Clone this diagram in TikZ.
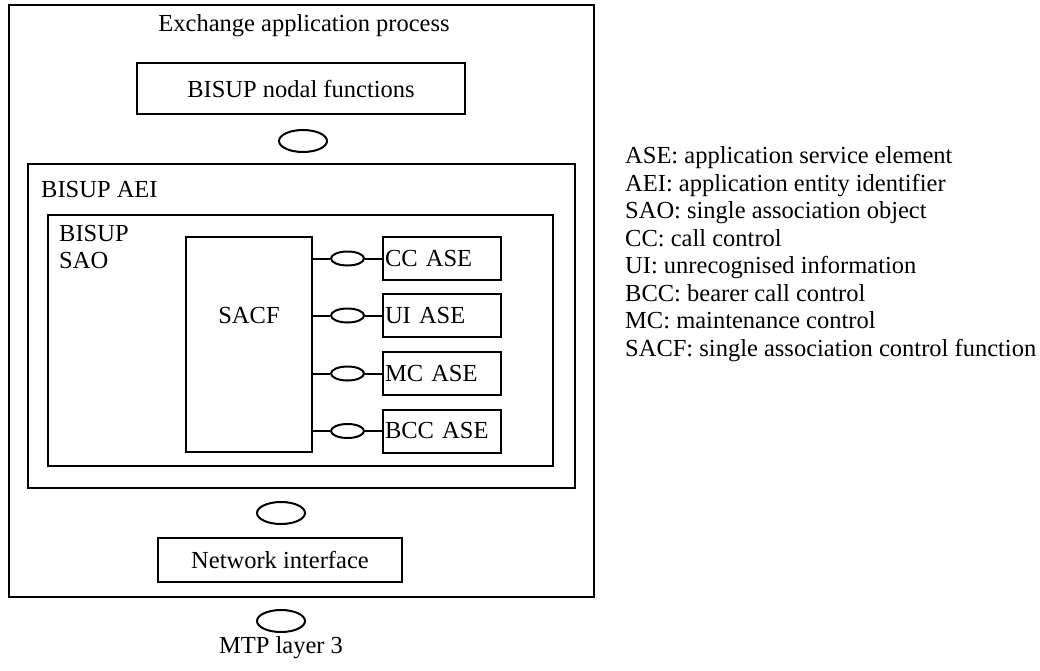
\documentclass[tikz,border=0pt]{standalone}
\usepackage{fontspec}
\setmainfont{Liberation Serif}
\usetikzlibrary{shapes.geometric}
\tikzset{
  box/.style={draw, line width=2pt, inner sep=0pt},
  asebox/.style={box, minimum height=43pt, text width=114pt, inner xsep=2pt, align=left},
  link/.style={draw, ellipse, line width=2pt, inner sep=0pt, minimum width=48pt, minimum height=22pt},
  smalllink/.style={link, minimum width=33pt, minimum height=14pt},
  wire/.style={line width=2pt}
}
\begin{document}
\begin{tikzpicture}[x=1pt, y=-1pt, font=\fontsize{24.5}{27.5}\selectfont]
        \useasboundingbox (0,0) rectangle (1040,671);
        % frames
        \node[box, minimum width=585pt, minimum height=592pt] (outer) at (301.5,301) {};
        \node[box, minimum width=547pt, minimum height=324pt] (aei) at (301.5,326) {};
        \node[box, minimum width=505pt, minimum height=251pt] (sao) at (300.5,340.5) {};
        \node (title) at (304,26) {Exchange application process};
        \node[anchor=west, inner sep=0pt] (aeilbl) at (41,190) {BISUP AEI};
        \node[anchor=west, inner sep=0pt, align=left] (saolbl) at (59,247) {BISUP\\SAO};

        % functions
        \node[box, minimum width=328pt, minimum height=51pt] (nodal) at (301,88.5) {BISUP nodal functions};
        \node[link] (o1) at (303,141) {};
        \node[box, minimum width=126pt, minimum height=215pt] (sacf) at (249,344.5) {};
        \node (sacflbl) at (249,316) {SACF};
        \node[box, minimum width=244pt, minimum height=44pt] (net) at (280,560) {Network interface};
        \node[link] (o2) at (281,513) {};
        \node[link] (o3) at (281,621) {};
        \node (mtp) at (281,648) {MTP layer 3};

        % application service elements
        \node[asebox] (cc)  at (442,258.5) {CC ASE};
        \node[asebox] (ui)  at (442,315.5) {UI ASE};
        \node[asebox] (mc)  at (442,373.5) {MC ASE};
        \node[asebox] (bcc) at (442,431)   {BCC ASE};
        \node[smalllink] (l1) at (347.5,258.5) {};
        \node[smalllink] (l2) at (347.5,315.5) {};
        \node[smalllink] (l3) at (347.5,373.5) {};
        \node[smalllink] (l4) at (347.5,431)   {};
        \draw[wire] (sacf.east |- cc.west) -- (l1) -- (cc.west);
        \draw[wire] (sacf.east |- ui.west) -- (l2) -- (ui.west);
        \draw[wire] (sacf.east |- mc.west) -- (l3) -- (mc.west);
        \draw[wire] (sacf.east |- bcc.west) -- (l4) -- (bcc.west);

        % legend
        \node[anchor=west, inner sep=0pt, align=left] (legend) at (625,254) {ASE: application service element\\
          AEI: application entity identifier\\
          SAO: single association object\\
          CC: call control\\
          UI: unrecognised information\\
          BCC: bearer call control\\
          MC: maintenance control\\
          SACF: single association control function};
    \end{tikzpicture}
\end{document}
